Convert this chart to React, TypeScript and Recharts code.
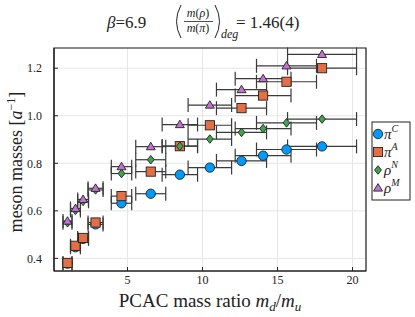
import React from 'react';
import {
  ScatterChart,
  Scatter,
  XAxis,
  YAxis,
  CartesianGrid,
  ErrorBar,
  ReferenceArea,
} from 'recharts';

// PCAC mass ratio m_d/m_u per ensemble (shared by all four series)
const massRatio = [1.0, 1.53, 2.04, 2.87, 4.6, 6.55, 8.49, 10.49, 12.6, 14.04, 15.6, 17.97];
const massRatioErr = [0.3, 0.33, 0.36, 0.5, 0.68, 1.0, 1.18, 1.45, 1.67, 1.86, 2.0, 2.3];

// meson masses in lattice units
const piC = [0.378, 0.447, 0.482, 0.543, 0.632, 0.672, 0.752, 0.782, 0.81, 0.832, 0.858, 0.871];
const piA = [0.381, 0.453, 0.486, 0.551, 0.662, 0.765, 0.872, 0.96, 1.032, 1.085, 1.143, 1.2];
const rhoN = [0.55, 0.602, 0.64, 0.688, 0.757, 0.815, 0.872, 0.902, 0.93, 0.946, 0.97, 0.986];
const rhoM = [0.557, 0.61, 0.648, 0.695, 0.786, 0.87, 0.963, 1.045, 1.11, 1.156, 1.21, 1.258];

const xTicks = [5, 10, 15, 20];
const yTicks = [0.4, 0.6, 0.8, 1.0, 1.2];

const X_DOMAIN: [number, number] = [0.1, 20.9];
const Y_DOMAIN: [number, number] = [0.347, 1.285];

const FONT = "'Liberation Serif', 'DejaVu Serif', serif";
const INK = '#222';

type Kind = 'circle' | 'square' | 'diamond' | 'triangle';

const SERIES: { key: string; sup: string; base: string; values: number[]; color: string; kind: Kind }[] = [
  { key: 'piC', base: 'π', sup: 'C', values: piC, color: '#009AFA', kind: 'circle' },
  { key: 'piA', base: 'π', sup: 'A', values: piA, color: '#E36F47', kind: 'square' },
  { key: 'rhoN', base: 'ρ', sup: 'N', values: rhoN, color: '#3EA44E', kind: 'diamond' },
  { key: 'rhoM', base: 'ρ', sup: 'M', values: rhoM, color: '#C371D2', kind: 'triangle' },
];

const toPoints = (ys: number[]) =>
  massRatio.map((x, i) => ({ x, y: ys[i], xe: massRatioErr[i] }));

function Marker({ cx, cy, kind, fill }: { cx: number; cy: number; kind: Kind; fill: string }) {
  const common = { fill, stroke: INK, strokeWidth: 0.9 };
  switch (kind) {
    case 'circle':
      return <circle cx={cx} cy={cy} r={4.7} {...common} />;
    case 'square':
      return <rect x={cx - 4.6} y={cy - 4.6} width={9.2} height={9.2} {...common} />;
    case 'diamond':
      return (
        <polygon
          points={`${cx},${cy - 4.3} ${cx + 3.4},${cy} ${cx},${cy + 4.3} ${cx - 3.4},${cy}`}
          {...common}
        />
      );
    default:
      return (
        <polygon
          points={`${cx},${cy - 4.4} ${cx + 4.5},${cy + 3.1} ${cx - 4.5},${cy + 3.1}`}
          {...common}
        />
      );
  }
}

// serif tick labels
const tickStyle = { fontFamily: FONT, fontSize: 12 };
const XTick = (p: any) => (
  <text x={p.x} y={p.y} dy="0.71em" textAnchor="middle" fill={INK} style={tickStyle}>
    {p.payload.value}
  </text>
);
const YTick = (p: any) => (
  <text x={p.x} y={p.y} dy="0.35em" textAnchor="end" fill={INK} style={tickStyle}>
    {Number(p.payload.value).toFixed(1)}
  </text>
);

function Overlay() {
  return (
    <svg
      width={415}
      height={317}
      style={{ position: 'absolute', left: 0, top: 0, pointerEvents: 'none' }}
      fontFamily={FONT}
      fill={INK}
    >
      {/* title */}
      <text x={107} y={28} fontSize={17}>
        <tspan fontStyle="italic">β</tspan>=6.9
      </text>
      <path d="M181,5 Q172,21.5 181,38" fill="none" stroke={INK} strokeWidth={1} />
      <text x={198} y={17} fontSize={12} textAnchor="middle">
        <tspan fontStyle="italic">m</tspan>(<tspan fontStyle="italic">ρ</tspan>)
      </text>
      <line x1={184} x2={213} y1={21.5} y2={21.5} stroke={INK} strokeWidth={0.8} />
      <text x={198} y={32} fontSize={12} textAnchor="middle">
        <tspan fontStyle="italic">m</tspan>(<tspan fontStyle="italic">π</tspan>)
      </text>
      <path d="M215,5 Q224,21.5 215,38" fill="none" stroke={INK} strokeWidth={1} />
      <text x={221} y={38} fontSize={12} fontStyle="italic">deg</text>
      <text x={236} y={28} fontSize={17}>= 1.46(4)</text>

      {/* axis labels */}
      <text x={210} y={307} fontSize={19} textAnchor="middle">
        PCAC mass ratio <tspan fontStyle="italic">m</tspan>
        <tspan fontStyle="italic" fontSize={13} dy={4}>d</tspan>
        <tspan dy={-4}>/</tspan>
        <tspan fontStyle="italic">m</tspan>
        <tspan fontStyle="italic" fontSize={13} dy={4}>u</tspan>
      </text>
      <text x={0} y={0} fontSize={18} textAnchor="middle" transform="translate(22,162) rotate(-90)">
        meson masses [<tspan fontStyle="italic">a</tspan>
        <tspan fontSize={12} dy={-7}>−1</tspan>
        <tspan dy={7}>]</tspan>
      </text>

      {/* legend */}
      <rect x={372} y={122} width={38} height={78} fill="#fff" stroke={INK} strokeWidth={1} />
      {SERIES.map((s, i) => {
        const y = 134 + i * 18;
        return (
          <g key={s.key}>
            <Marker cx={378} cy={y} kind={s.kind} fill={s.color} />
            <text x={384} y={y + 5} fontSize={15} fontStyle="italic">
              {s.base}
              <tspan fontSize={10} dy={-7}>{s.sup}</tspan>
            </text>
          </g>
        );
      })}
    </svg>
  );
}

export default function App() {
  return (
    <div
      style={{
        position: 'absolute',
        left: 0,
        top: 0,
        width: 415,
        height: 317,
        background: '#fff',
        fontFamily: FONT,
      }}
    >
      <ScatterChart
        width={415}
        height={317}
        margin={{ top: 48, right: 49, bottom: 26, left: 24 }}
        style={{ fontFamily: FONT }}
      >
        <CartesianGrid stroke="#e6e6e6" strokeWidth={1} />
        <XAxis
          type="number"
          dataKey="x"
          domain={X_DOMAIN}
          ticks={xTicks}
          allowDataOverflow
          height={20}
          axisLine={{ stroke: INK, strokeWidth: 1.2 }}
          tickLine={{ stroke: INK }}
          tickSize={-4}
          tickMargin={8}
          tick={XTick}
        />
        <YAxis
          type="number"
          dataKey="y"
          domain={Y_DOMAIN}
          ticks={yTicks}
          allowDataOverflow
          width={30}
          axisLine={{ stroke: INK, strokeWidth: 1.2 }}
          tickLine={{ stroke: INK }}
          tickSize={-4}
          tickMargin={16}
          tick={YTick}
        />
        <ReferenceArea
          x1={X_DOMAIN[0]}
          x2={X_DOMAIN[1]}
          y1={Y_DOMAIN[0]}
          y2={Y_DOMAIN[1]}
          fill="none"
          stroke={INK}
          strokeWidth={1.2}
          strokeOpacity={1}
        />
        {SERIES.map((s) => (
          <Scatter
            key={s.key}
            name={s.key}
            data={toPoints(s.values)}
            isAnimationActive={false}
            shape={(p: any) => <Marker cx={p.cx} cy={p.cy} kind={s.kind} fill={s.color} />}
          >
            <ErrorBar dataKey="xe" direction="x" width={7} stroke="#3a3a3a" strokeWidth={1.2} />
          </Scatter>
        ))}
      </ScatterChart>
      <Overlay />
    </div>
  );
}
